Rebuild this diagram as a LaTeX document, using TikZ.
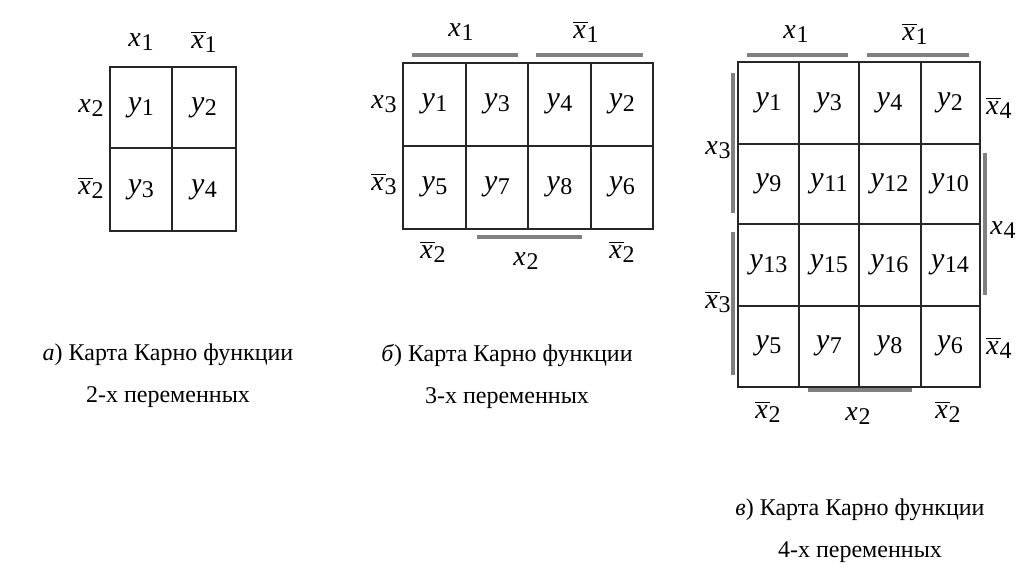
\documentclass[tikz,border=0pt]{standalone}
\usepackage{fontspec}
\setmainfont{Liberation Serif}
\usetikzlibrary{positioning}

% variable with subscript, and negated variable
\newcommand\kv[2]{{\itshape #1}\kern0.3pt\raisebox{-0.3ex}{\fontsize{12}{12}\selectfont #2}}
\newcommand\nkv[2]{$\overline{\hbox{\itshape #1\kern1pt}}$\kern-0.5pt\raisebox{-0.3ex}{\fontsize{12}{12}\selectfont #2}}

\begin{document}
\begin{tikzpicture}[
    x=0.5pt, y=-0.5pt,
    grid/.style={line width=1pt, draw=black!85},
    bar/.style={line width=1.8pt, draw=black!50},
    cell/.style={font=\fontsize{15}{15}\selectfont, inner sep=0pt},
    lbl/.style={font=\fontsize{14}{14}\selectfont, inner sep=0pt},
    caption/.style={font=\fontsize{12}{21}\selectfont, align=center, inner sep=0pt}
]
  \useasboundingbox (0,0) rectangle (1024,574);

  % Map a: two variables
  \draw[grid] (110,67) rectangle (236,231);
  \draw[grid] (172,67) -- (172,231) (110,148) -- (236,148);
  \node[cell] (a11) at (141,108) {\kv{y}{1}};
  \node[cell] (a12) at (204,108) {\kv{y}{2}};
  \node[cell] (a21) at (141,190) {\kv{y}{3}};
  \node[cell] (a22) at (204,190) {\kv{y}{4}};
  \node[lbl] (ax1) at (141,42) {\kv{x}{1}};
  \node[lbl] (anx1) at (204,42) {\nkv{x}{1}};
  \node[lbl] (ax2) at (91,108) {\kv{x}{2}};
  \node[lbl] (anx2) at (91,188) {\nkv{x}{2}};
  \node[caption] (capa) at (168,376) {\textit{а}) Карта Карно функции\\2-х переменных};

  % Map b: three variables
  \draw[grid] (403,63) rectangle (653,229);
  \foreach \c in {466,528,591} \draw[grid] (\c,63) -- (\c,229);
  \draw[grid] (403,146) -- (653,146);
  \foreach \v [count=\i] in {1,3,4,2} \node[cell] (b1\i) at (372+62.5*\i,104) {\kv{y}{\v}};
  \foreach \v [count=\i] in {5,7,8,6} \node[cell] (b2\i) at (372+62.5*\i,187) {\kv{y}{\v}};
  \draw[bar] (412,55) -- (518,55);
  \draw[bar] (536,55) -- (643,55);
  \draw[bar] (477,237) -- (582,237);
  \node[lbl] (bx1) at (461,32) {\kv{x}{1}};
  \node[lbl] (bnx1) at (586,32) {\nkv{x}{1}};
  \node[lbl] (bx3) at (384,104) {\kv{x}{3}};
  \node[lbl] (bnx3) at (384,184) {\nkv{x}{3}};
  \node[lbl] (bnx2a) at (433,252) {\nkv{x}{2}};
  \node[lbl] (bx2) at (526,261) {\kv{x}{2}};
  \node[lbl] (bnx2b) at (622,252) {\nkv{x}{2}};
  \node[caption] (capb) at (507,376) {\textit{б}) Карта Карно функции\\3-х переменных};

  % Map c: four variables
  \draw[grid] (738,62) rectangle (980,387);
  \foreach \c in {799,859,921} \draw[grid] (\c,62) -- (\c,387);
  \foreach \r in {144,224,306} \draw[grid] (738,\r) -- (980,\r);
  \foreach \v [count=\i] in {1,3,4,2} \node[cell] (c1\i) at (708+60.5*\i,103) {\kv{y}{\v}};
  \foreach \v [count=\i] in {9,11,12,10} \node[cell] (c2\i) at (708+60.5*\i,184) {\kv{y}{\v}};
  \foreach \v [count=\i] in {13,15,16,14} \node[cell] (c3\i) at (708+60.5*\i,265) {\kv{y}{\v}};
  \foreach \v [count=\i] in {5,7,8,6} \node[cell] (c4\i) at (708+60.5*\i,346) {\kv{y}{\v}};
  \draw[bar] (747,55) -- (848,55);
  \draw[bar] (867,55) -- (969,55);
  \draw[bar] (733,73) -- (733,213);
  \draw[bar] (733,232) -- (733,375);
  \draw[bar] (985,153) -- (985,295);
  \draw[bar] (808,390) -- (912,390);
  \node[lbl] (cx1) at (796,34) {\kv{x}{1}};
  \node[lbl] (cnx1) at (915,34) {\nkv{x}{1}};
  \node[lbl] (cx3) at (718,150) {\kv{x}{3}};
  \node[lbl] (cnx3) at (718,302) {\nkv{x}{3}};
  \node[lbl] (cnx4a) at (999,108) {\nkv{x}{4}};
  \node[lbl] (cx4) at (1003,230) {\kv{x}{4}};
  \node[lbl] (cnx4b) at (999,348) {\nkv{x}{4}};
  \node[lbl] (cnx2a) at (768,412) {\nkv{x}{2}};
  \node[lbl] (cx2) at (858,416) {\kv{x}{2}};
  \node[lbl] (cnx2b) at (948,412) {\nkv{x}{2}};
  \node[caption] (capc) at (860,531) {\textit{в}) Карта Карно функции\\4-х переменных};
\end{tikzpicture}
\end{document}
